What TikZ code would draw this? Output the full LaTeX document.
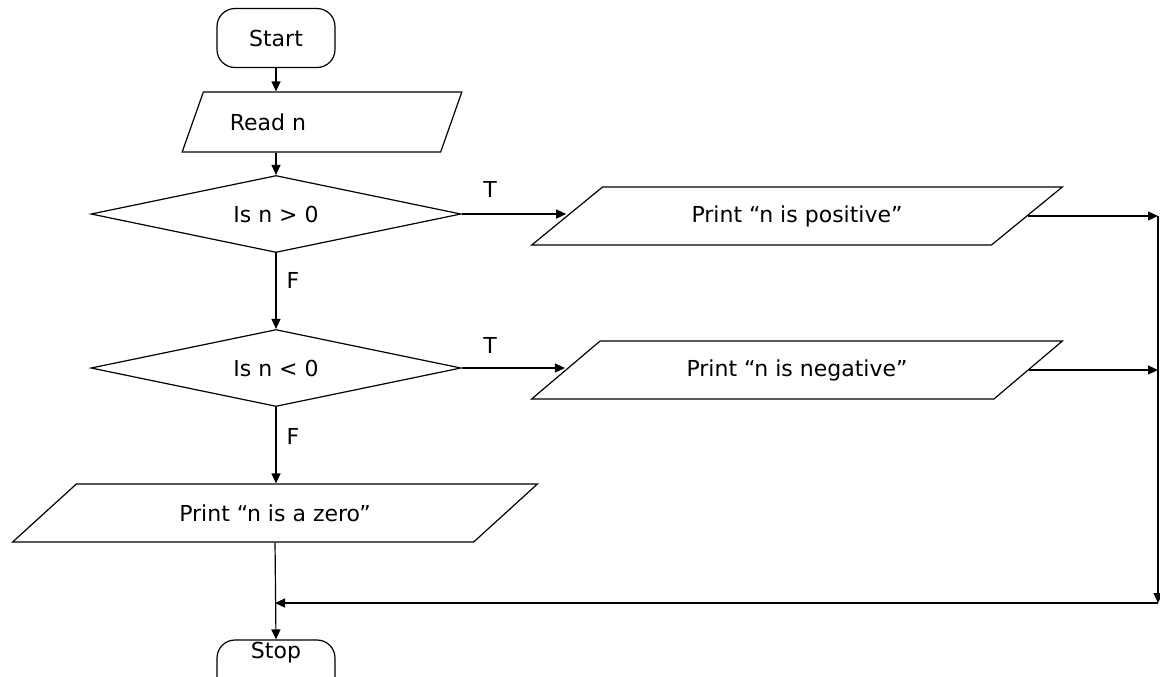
\documentclass[tikz,border=0pt]{standalone}
\usepackage{fontspec}
\setmainfont{DejaVu Sans}
\usetikzlibrary{shapes.geometric,shapes.misc,arrows.meta}

\tikzset{
  term/.style={draw, rectangle, rounded corners=9pt, minimum width=59pt, minimum height=29.5pt, inner sep=0pt},
  iobox/.style={draw, trapezium, trapezium stretches=true, trapezium left angle=29, trapezium right angle=151, minimum height=29pt, inner sep=0pt},
  decide/.style={draw, diamond, aspect=4.8, minimum width=185pt, minimum height=38.5pt, inner sep=0pt},
  arr/.style={-{Triangle[length=5pt,width=4.5pt]}},
  tag/.style={inner sep=0pt}
}

\begin{document}
\begin{tikzpicture}[x=0.5pt, y=-0.5pt, line width=0.6pt, font=\fontsize{11}{13}\selectfont]
    \useasboundingbox (0,0) rectangle (1160,676);

    \node[term] (start) at (276,38) {Start};
    \node[iobox, trapezium left angle=46, trapezium right angle=134, minimum width=140pt, minimum height=30pt] (read) at (322,122) {Read n\hspace*{54pt}};

    \node[decide] (gt) at (276,214) {Is n > 0};
    \node[iobox, minimum width=265.5pt] (pos) at (797,216) {Print “n is positive”};

    \node[decide] (lt) at (276,368) {Is n < 0};
    \node[iobox, minimum width=265.5pt] (neg) at (797,370) {Print “n is negative”};

    \node[iobox, minimum width=262.5pt] (zero) at (275,513) {Print “n is a zero”};

    \node[term, minimum height=36pt] (stop) at (276,676) {\raisebox{26pt}{Stop}}; % cut by the page edge

    \coordinate (rail) at (1158,603); % bottom right corner

    % main line
    \draw[arr] (start) -- (start |- read.north);
    \draw[arr] (start |- read.south) -- (gt.north);
    \draw[arr] (gt.south) -- (lt.north);
    \draw[arr] (lt.south) -- (lt.south |- zero.north);
    \draw[arr] (zero.south) -- (stop.north);

    % true branches
    \draw[arr] (gt.east) -- (gt.east -| pos.west);
    \draw[arr] (lt.east) -- (lt.east -| neg.west);
    \draw[arr] (pos.east) -- (pos.east -| rail);
    \draw[arr] (neg.east) -- (neg.east -| rail);

    % back to stop
    \draw[arr] (pos.east -| rail) -- (rail);
    \draw[arr] (rail) -- (rail -| zero.south);

    \node[tag] (t1) at (490,189) {T};
    \node[tag] (t2) at (490,345) {T};
    \node[tag] (f1) at (293,280) {F};
    \node[tag] (f2) at (293,436) {F};

\end{tikzpicture}
\end{document}
